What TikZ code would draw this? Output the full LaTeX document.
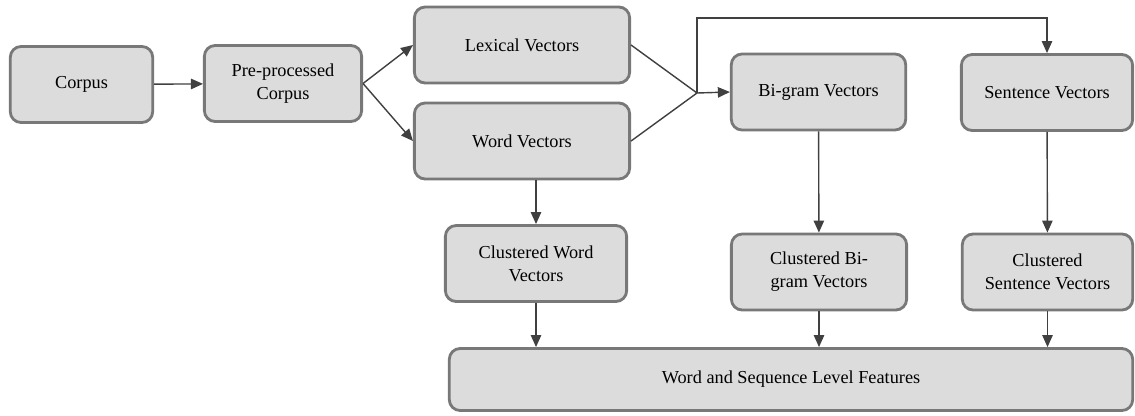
\documentclass[tikz,border=0pt]{standalone}
\usepackage{fontspec}
\setmainfont{Liberation Serif}
\usetikzlibrary{arrows.meta}

\definecolor{boxfill}{RGB}{220,220,220}
\definecolor{boxline}{RGB}{120,120,120}
\definecolor{arrowline}{RGB}{64,64,64}

\begin{document}
\begin{tikzpicture}[x=0.025cm,y=-0.025cm,
	stage/.style={draw=boxline,fill=boxfill,line width=2pt,rounded corners=0.27cm,align=center,minimum height=1.9cm,font=\fontsize{13}{16.5}\selectfont},
	flow/.style={draw=arrowline,line width=1pt,-{Triangle[length=0.3cm,width=0.26cm]}},
	link/.style={draw=arrowline,line width=1pt}]
		\useasboundingbox (0,0) rectangle (1135,415);

		\node[stage,minimum width=3.56cm](CORPUS) at (81.5,84.5) {Corpus};
		\node[stage,minimum width=3.93cm](PREPROC) at (283,83.5) {Pre-processed\\Corpus};
		\node[stage,minimum width=5.38cm](LEXICAL) at (522,45) {Lexical Vectors};
		\node[stage,minimum width=5.38cm](WORDVEC) at (522,141) {Word Vectors};
		\node[stage,minimum width=4.36cm](BIGRAM) at (818.5,92) {Bi-gram Vectors};
		\node[stage,minimum width=4.28cm](SENTENCE) at (1047,92.5) {Sentence Vectors};

		\node[stage,minimum width=4.53cm](CWORD) at (536,263.5) {Clustered Word\\Vectors};
		\node[stage,minimum width=4.38cm](CBIGRAM) at (819,272) {Clustered Bi-\\gram Vectors};
		\node[stage,minimum width=4.26cm](CSENTENCE) at (1047.5,272) {Clustered\\Sentence Vectors};

		\node[stage,minimum width=17.08cm,minimum height=1.55cm](FEATURES) at (791,379.5) {Word and Sequence Level Features};

		\coordinate (JOIN) at (697,93);
		\coordinate (TOP) at (697,18);

		\draw [flow] (CORPUS) -- (PREPROC);
		\draw [flow] (PREPROC.east) -- (LEXICAL.west);
		\draw [flow] (PREPROC.east) -- (WORDVEC.west);

		\draw [link] (LEXICAL.east) -- (JOIN);
		\draw [link] (WORDVEC.east) -- (JOIN);
		\draw [flow] (JOIN) -- (BIGRAM.west);
		\draw [flow] (JOIN) -- (TOP) -| (SENTENCE.north);

		\draw [flow] (CWORD.north |- WORDVEC.south) -- (CWORD.north);
		\draw [flow] (BIGRAM) -- (CBIGRAM);
		\draw [flow] (SENTENCE) -- (CSENTENCE);

		\draw [flow] (CWORD.south) -- (CWORD.south |- FEATURES.north);
		\draw [flow] (CBIGRAM.south) -- (CBIGRAM.south |- FEATURES.north);
		\draw [flow] (CSENTENCE.south) -- (CSENTENCE.south |- FEATURES.north);
	\end{tikzpicture}
\end{document}
